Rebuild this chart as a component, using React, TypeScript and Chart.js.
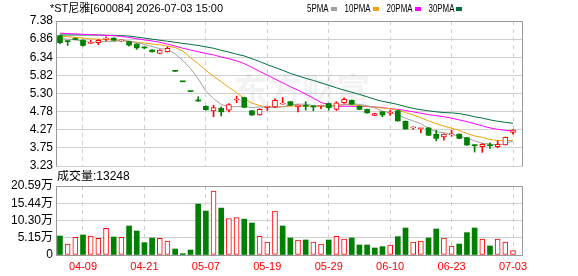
import { useEffect, useRef } from 'react';
import { Chart, registerables } from 'chart.js';

Chart.register(...registerables);

// ---------------- data ----------------
const dates = [
  '04-03', '04-07', '04-08', '04-09', '04-10', '04-13', '04-14', '04-15', '04-16', '04-17',
  '04-20', '04-21', '04-22', '04-23', '04-24', '04-27', '04-28', '04-29', '04-30', '05-07',
  '05-08', '05-11', '05-12', '05-13', '05-14', '05-15', '05-18', '05-19', '05-20', '05-21',
  '05-22', '05-25', '05-26', '05-27', '05-28', '05-29', '06-01', '06-02', '06-03', '06-04',
  '06-05', '06-08', '06-09', '06-10', '06-11', '06-12', '06-15', '06-16', '06-17', '06-18',
  '06-22', '06-23', '06-24', '06-25', '06-26', '06-29', '06-30', '07-01', '07-02', '07-03',
];

const openPrices = [
  6.96, 6.81, 6.86, 6.83, 6.74, 6.76, 6.86, 6.89, 6.81, 6.79,
  6.72, 6.62, 6.55, 6.45, 6.50, 5.94, 5.64, 5.36, 5.09, 4.94,
  4.81, 4.88, 4.83, 5.12, 5.19, 4.81, 4.69, 4.91, 4.92, 5.00,
  5.07, 4.93, 4.95, 4.94, 4.94, 5.02, 4.85, 5.04, 5.11, 4.94,
  4.85, 4.68, 4.78, 4.74, 4.81, 4.51, 4.32, 4.30, 4.32, 4.14,
  4.06, 4.12, 4.14, 4.04, 3.84, 3.78, 3.82, 3.78, 3.83, 4.19,
];
const highPrices = [
  6.98, 6.82, 6.90, 6.84, 6.83, 6.85, 6.93, 6.90, 6.84, 6.80,
  6.73, 6.64, 6.56, 6.56, 6.64, 5.94, 5.64, 5.36, 5.21, 4.95,
  4.97, 4.92, 5.02, 5.23, 5.20, 4.82, 4.87, 4.95, 5.15, 5.19,
  5.08, 4.98, 5.07, 4.95, 4.97, 5.03, 5.07, 5.18, 5.12, 4.95,
  4.86, 4.74, 4.79, 4.82, 4.82, 4.52, 4.35, 4.31, 4.33, 4.25,
  4.15, 4.25, 4.15, 4.05, 3.84, 3.87, 3.89, 3.95, 4.06, 4.27,
];
const lowPrices = [
  6.73, 6.68, 6.84, 6.66, 6.73, 6.70, 6.81, 6.82, 6.79, 6.66,
  6.57, 6.58, 6.49, 6.44, 6.49, 5.94, 5.64, 5.36, 5.08, 4.83,
  4.64, 4.66, 4.78, 5.04, 4.90, 4.68, 4.68, 4.82, 4.90, 5.00,
  4.96, 4.78, 4.83, 4.81, 4.87, 4.83, 4.82, 5.02, 4.99, 4.84,
  4.74, 4.67, 4.64, 4.68, 4.51, 4.28, 4.28, 4.18, 4.10, 3.95,
  3.97, 4.08, 4.01, 3.82, 3.63, 3.62, 3.73, 3.75, 3.83, 4.14,
];
const closePrices = [
  6.76, 6.79, 6.85, 6.68, 6.75, 6.83, 6.87, 6.83, 6.82, 6.69,
  6.61, 6.61, 6.50, 6.55, 6.60, 5.94, 5.64, 5.36, 5.09, 4.84,
  4.90, 4.78, 4.99, 5.14, 4.91, 4.69, 4.85, 4.94, 5.11, 5.01,
  4.97, 4.97, 4.94, 4.92, 4.95, 4.90, 5.04, 5.14, 5.00, 4.85,
  4.75, 4.73, 4.69, 4.76, 4.52, 4.29, 4.33, 4.31, 4.11, 4.02,
  4.14, 4.13, 4.02, 3.83, 3.81, 3.85, 3.81, 3.85, 4.05, 4.26,
];

const ma5 = [
  6.88, 6.86, 6.84, 6.80, 6.77, 6.78, 6.80, 6.79, 6.82, 6.81,
  6.76, 6.71, 6.65, 6.59, 6.57, 6.44, 6.25, 6.02, 5.73, 5.37,
  5.16, 4.99, 4.92, 4.93, 4.94, 4.90, 4.92, 4.91, 4.90, 4.92,
  4.98, 5.00, 5.00, 4.96, 4.95, 4.94, 4.95, 4.99, 5.01, 4.99,
  4.96, 4.89, 4.80, 4.76, 4.69, 4.60, 4.52, 4.44, 4.31, 4.21,
  4.18, 4.14, 4.08, 4.03, 3.95, 3.88, 3.86, 3.83, 3.87, 3.95,
];
const ma10 = [
  6.95, 6.93, 6.91, 6.89, 6.87, 6.86, 6.85, 6.84, 6.82, 6.79,
  6.77, 6.75, 6.72, 6.70, 6.66, 6.62, 6.52, 6.33, 6.16, 5.97,
  5.80, 5.64, 5.48, 5.33, 5.16, 5.03, 4.96, 4.92, 4.92, 4.93,
  4.94, 4.95, 4.95, 4.93, 4.94, 4.95, 4.97, 4.99, 4.98, 4.96,
  4.94, 4.91, 4.89, 4.87, 4.83, 4.76, 4.69, 4.61, 4.52, 4.44,
  4.37, 4.31, 4.25, 4.16, 4.09, 4.05, 3.99, 3.96, 3.95, 3.97,
];
const ma20 = [
  7.03, 7.02, 7.01, 7.00, 6.99, 6.98, 6.97, 6.96, 6.94, 6.91,
  6.87, 6.84, 6.81, 6.77, 6.72, 6.66, 6.60, 6.55, 6.50, 6.45,
  6.41, 6.35, 6.30, 6.24, 6.16, 6.05, 5.94, 5.83, 5.72, 5.61,
  5.50, 5.40, 5.29, 5.17, 5.05, 4.98, 4.94, 4.94, 4.94, 4.94,
  4.93, 4.92, 4.90, 4.87, 4.85, 4.82, 4.78, 4.74, 4.70, 4.67,
  4.64, 4.60, 4.55, 4.50, 4.44, 4.38, 4.32, 4.28, 4.25, 4.23,
];
const ma30 = [
  6.98, 6.98, 6.98, 6.98, 6.98, 6.98, 6.97, 6.97, 6.96, 6.95,
  6.92, 6.89, 6.86, 6.83, 6.80, 6.77, 6.74, 6.71, 6.68, 6.64,
  6.60, 6.54, 6.49, 6.43, 6.38, 6.30, 6.22, 6.13, 6.05, 5.97,
  5.88, 5.81, 5.74, 5.68, 5.61, 5.54, 5.47, 5.40, 5.34, 5.28,
  5.21, 5.14, 5.08, 5.04, 4.99, 4.93, 4.88, 4.84, 4.81, 4.78,
  4.76, 4.75, 4.73, 4.69, 4.64, 4.60, 4.55, 4.51, 4.48, 4.45,
];

const volumes = [
  56700, 32800, 52700, 59700, 56700, 49700, 79600, 53700, 52700, 86600,
  71600, 36800, 50700, 49700, 41800, 17900, 4000, 14900, 152000, 131000,
  191000, 140000, 109000, 112000, 107000, 95500, 55700, 38800, 131000, 86600,
  50700, 44800, 44800, 38800, 32800, 44800, 55700, 47800, 50700, 29900,
  29900, 20900, 24900, 29900, 54700, 80600, 38800, 41800, 50700, 77600,
  50700, 26900, 32800, 66700, 80600, 47800, 26900, 47800, 38800, 13248,
];
// 1 = up day (red hollow bar), 0 = down day (green solid bar)
const volumeUp = [
  0, 1, 1, 0, 1, 1, 1, 0, 1, 0,
  0, 0, 0, 1, 1, 0, 0, 0, 0, 0,
  1, 0, 1, 1, 0, 0, 1, 1, 1, 0,
  0, 1, 0, 1, 1, 0, 1, 1, 0, 0,
  0, 0, 0, 1, 0, 0, 1, 1, 0, 0,
  1, 1, 0, 0, 0, 1, 0, 1, 1, 1,
];

const priceTickLabels = ['3.23', '3.75', '4.27', '4.78', '5.30', '5.82', '6.34', '6.86', '7.38'];
const volumeTickLabels = ['0', '5.15万', '10.30万', '15.44万', '20.59万'];
const dateTickIndexes = [3, 11, 19, 27, 35, 43, 51, 59];
const maLabels = ['5PMA', '10PMA', '20PMA', '30PMA'];
const titleText = '*ST尼雅[600084] 2026-07-03 15:00';
const volumeTitle = '成交量';
const lastVolume = 13248;

const PRICE_MIN = 3.23;
const PRICE_MAX = 7.38;
const VOLUME_MAX = 205900;

// ---------------- styles ----------------
const RED = '#ff0000';
const GREEN = '#008000';
const GRID = '#d0d0d0';
const FRAME = '#999999';
const MA_COLORS = ['#a0a0a0', '#f0a30a', '#ff00ff', '#006f3c'];
const SANS = "'Liberation Sans', Arial, 'Noto Sans CJK SC', sans-serif";
const X_MIN = -0.516;
const X_MAX = 60.17;

function drawFrame(chart: any, bottom: boolean) {
  const { ctx, chartArea: a } = chart;
  const l = Math.round(a.left) + 0.5;
  const r = Math.round(a.right) + 0.5;
  const t = Math.round(a.top) + 0.5;
  const b = Math.round(a.bottom) + 0.5;
  ctx.save();
  ctx.strokeStyle = FRAME;
  ctx.lineWidth = 1;
  ctx.beginPath();
  ctx.moveTo(l, b);
  ctx.lineTo(l, t);
  ctx.lineTo(r, t);
  ctx.lineTo(r, b);
  if (bottom) ctx.lineTo(l, b);
  ctx.stroke();
  ctx.restore();
}

function makeXScale(showLabels: boolean) {
  return {
    type: 'linear',
    min: X_MIN,
    max: X_MAX,
    offset: false,
    bounds: 'data',
    afterBuildTicks: (s: any) => {
      s.ticks = dateTickIndexes.map((v) => ({ value: v }));
    },
    afterFit: (s: any) => {
      s.height = showLabels ? 21 : 0;
    },
    ticks: {
      display: showLabels,
      autoSkip: false,
      maxRotation: 0,
      padding: 5,
      color: RED,
      font: { family: SANS, size: 11 },
      callback: (v: any) => dates[v as number],
    },
    grid: { color: GRID, drawTicks: false, lineWidth: 1, offset: false },
    border: { display: false, dash: [4, 4] },
  };
}

export default function App() {
  const priceRef = useRef<HTMLCanvasElement>(null);
  const volRef = useRef<HTMLCanvasElement>(null);

  useEffect(() => {
    const idx = dates.map((_, i) => i);
    const isUp = (i: number) => closePrices[i] > openPrices[i];
    const maValues = [ma5, ma10, ma20, ma30];

    const pricePlugin = {
      id: 'priceDecor',
      beforeDatasetsDraw(chart: any) {
        const { ctx } = chart;
        ctx.save();
        ctx.fillStyle = 'rgba(120,120,150,0.09)';
        ctx.font = "bold 34px 'Noto Sans CJK SC', sans-serif";
        ctx.textBaseline = 'middle';
        ctx.fillText('东方财富', 234, 90);
        ctx.restore();
      },
      afterDraw(chart: any) {
        const { ctx } = chart;
        drawFrame(chart, false);
        ctx.save();
        ctx.fillStyle = '#000';
        ctx.textBaseline = 'middle';
        ctx.font = `11px ${SANS}`;
        ctx.fillText(titleText, 50, 9);
        let x = 307;
        maLabels.forEach((label, k) => {
          ctx.font = `11px ${SANS}`;
          const w = ctx.measureText(label).width * 0.72;
          ctx.save();
          ctx.translate(x, 9);
          ctx.scale(0.72, 1);
          ctx.fillStyle = '#000';
          ctx.fillText(label, 0, 0);
          ctx.restore();
          ctx.fillStyle = MA_COLORS[k];
          ctx.fillRect(Math.round(x + w + 2), 7, 6, 4);
          x += w + 2 + 6 + 8;
        });
        ctx.restore();
      },
    };

    const volumePlugin = {
      id: 'volumeDecor',
      afterDraw(chart: any) {
        const { ctx } = chart;
        drawFrame(chart, true);
        ctx.save();
        ctx.fillStyle = '#000';
        ctx.textBaseline = 'middle';
        ctx.font = `12px ${SANS}`;
        ctx.fillText(`${volumeTitle}:${lastVolume}`, 57, 7);
        ctx.restore();
      },
    };

    const priceChart = new Chart(priceRef.current as HTMLCanvasElement, {
      type: 'bar',
      data: {
        datasets: [
          {
            type: 'bar',
            label: 'body',
            data: idx.map((i) => ({ x: i, y: [openPrices[i], closePrices[i]] })),
            barThickness: 5,
            grouped: false,
            minBarLength: 1,
            borderSkipped: false,
            borderWidth: (c: any) => (isUp(c.dataIndex) ? 1 : 0),
            borderColor: RED,
            backgroundColor: (c: any) => (isUp(c.dataIndex) ? '#ffffff' : GREEN),
            order: 0,
          } as any,
          {
            type: 'bar',
            label: 'wick',
            data: idx.map((i) => ({ x: i, y: [lowPrices[i], highPrices[i]] })),
            barThickness: 1,
            grouped: false,
            borderWidth: 0,
            backgroundColor: (c: any) => (isUp(c.dataIndex) ? RED : GREEN),
            order: 1,
          } as any,
          ...maLabels.map((label, k) => ({
            type: 'line',
            label,
            data: idx.map((i) => ({ x: i, y: maValues[k][i] })),
            borderColor: MA_COLORS[k],
            borderWidth: 1,
            pointRadius: 0,
            tension: 0,
            fill: false,
            order: 2 + k,
          })) as any,
        ],
      },
      options: {
        responsive: false,
        maintainAspectRatio: false,
        animation: false,
        events: [],
        layout: { autoPadding: false, padding: { left: 0, right: 56, top: 21, bottom: 16 } },
        plugins: { legend: { display: false }, tooltip: { enabled: false } },
        scales: {
          x: makeXScale(false) as any,
          y: {
            type: 'linear',
            min: PRICE_MIN,
            max: PRICE_MAX,
            afterBuildTicks: (s: any) => {
              const n = priceTickLabels.length - 1;
              s.ticks = priceTickLabels.map((_, k) => ({ value: PRICE_MIN + (k * (PRICE_MAX - PRICE_MIN)) / n }));
            },
            afterFit: (s: any) => {
              s.width = 56;
            },
            ticks: {
              autoSkip: false,
              padding: 3,
              color: '#000',
              font: { family: SANS, size: 12 },
              callback: (_v: any, i: number) => priceTickLabels[i],
            },
            grid: { color: GRID, drawTicks: false },
            border: { display: false },
          } as any,
        },
      },
      plugins: [pricePlugin],
    });

    const volumeChart = new Chart(volRef.current as HTMLCanvasElement, {
      type: 'bar',
      data: {
        datasets: [
          {
            type: 'bar',
            label: 'volume',
            data: idx.map((i) => ({ x: i, y: volumes[i] })),
            barThickness: 5,
            grouped: false,
            borderSkipped: false,
            borderWidth: (c: any) => (volumeUp[c.dataIndex] ? 1 : 0),
            borderColor: RED,
            backgroundColor: (c: any) => (volumeUp[c.dataIndex] ? '#ffffff' : GREEN),
          } as any,
        ],
      },
      options: {
        responsive: false,
        maintainAspectRatio: false,
        animation: false,
        events: [],
        layout: { autoPadding: false, padding: { left: 0, right: 56, top: 16, bottom: 0 } },
        plugins: { legend: { display: false }, tooltip: { enabled: false } },
        scales: {
          x: makeXScale(true) as any,
          y: {
            type: 'linear',
            min: 0,
            max: VOLUME_MAX,
            afterBuildTicks: (s: any) => {
              const n = volumeTickLabels.length - 1;
              s.ticks = volumeTickLabels.map((_, k) => ({ value: (k * VOLUME_MAX) / n }));
            },
            afterFit: (s: any) => {
              s.width = 56;
            },
            ticks: {
              autoSkip: false,
              padding: 3,
              color: '#000',
              font: { family: SANS, size: 12 },
              callback: (_v: any, i: number) => volumeTickLabels[i],
            },
            grid: { color: GRID, drawTicks: false },
            border: { display: false },
          } as any,
        },
      },
      plugins: [volumePlugin],
    });

    return () => {
      priceChart.destroy();
      volumeChart.destroy();
    };
  }, []);

  return (
    <div
      style={{
        position: 'absolute',
        left: 0,
        top: 0,
        width: 578,
        height: 276,
        background: '#ffffff',
        overflow: 'hidden',
      }}
    >
      <canvas ref={priceRef} width={578} height={182} style={{ position: 'absolute', left: 0, top: 0 }} />
      <canvas ref={volRef} width={578} height={106} style={{ position: 'absolute', left: 0, top: 170 }} />
    </div>
  );
}
